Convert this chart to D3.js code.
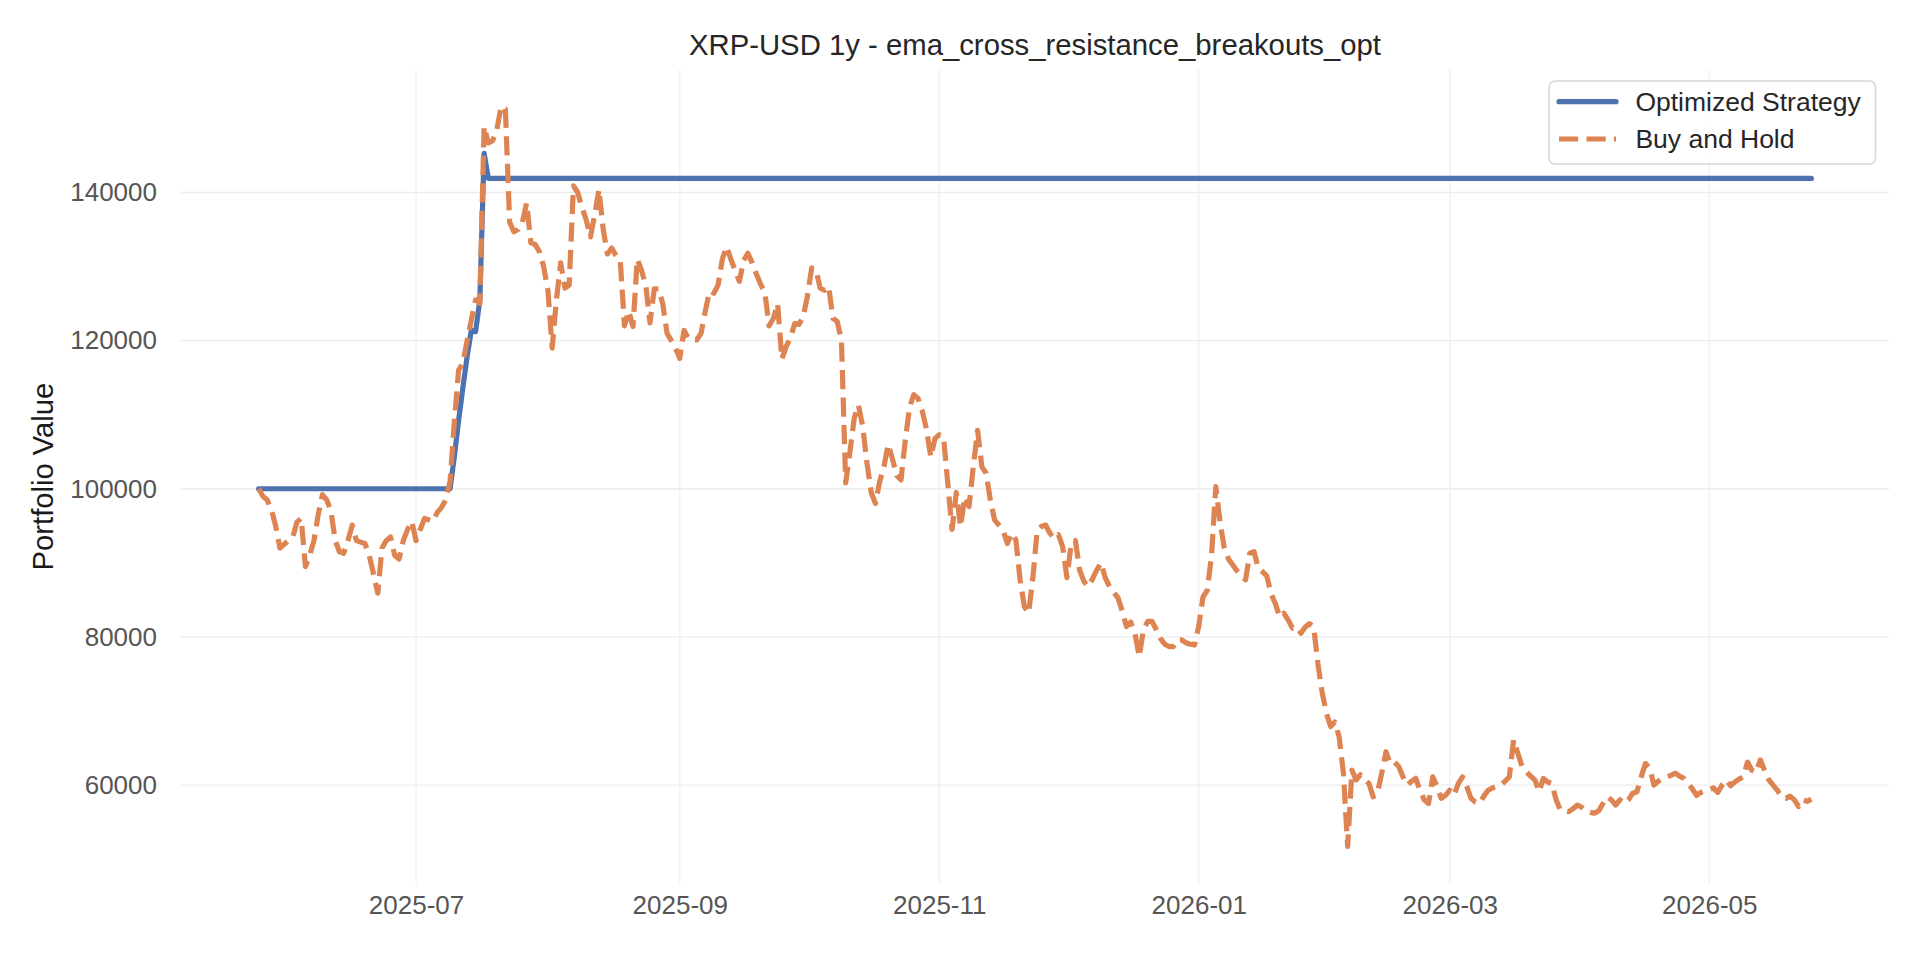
<!DOCTYPE html>
<html>
<head>
<meta charset="utf-8">
<script src="https://cdnjs.cloudflare.com/ajax/libs/d3/7.8.5/d3.min.js"></script>
<style>
  html, body { margin: 0; padding: 0; background: #ffffff; }
  svg { display: block; font-family: "Liberation Sans", Arial, sans-serif; }
</style>
</head>
<body>
<div id="chart"></div>
<script>
// chart text
const chartTitle = "XRP-USD 1y - ema_cross_resistance_breakouts_opt";
const yLabel = "Portfolio Value";
const seriesNames = ["Optimized Strategy", "Buy and Hold"];
const seriesColors = ["#4c72b0", "#dd8452"];

// first day of the daily series (2025-05-25), one value per day
const startDay = "2025-05-25";

// buy and hold, daily values
const buyHold = [
  100000, 99000, 98500, 97200, 95000, 92000, 92500, 93000, 93400, 95500,
  96000, 89500, 91000, 93000, 96500, 99200, 98500, 97000, 93000, 91500,
  91300, 93000, 95100, 93000, 92800, 92600, 91000, 88500, 85900, 92000,
  93000, 93500, 91000, 90500, 93000, 94500, 95600, 93000, 94500, 96000,
  95800, 95600, 96800, 97500, 98500, 101000, 109000, 116000, 117000, 120000,
  122800, 125500, 125000, 148900, 146700, 147000, 148500, 151600, 151300, 136000,
  134700, 135000, 136000, 138600, 133200, 133000, 132000, 130000, 126800, 119000,
  125500, 130500, 127100, 127500, 140900, 140000, 138000, 136300, 134000, 137000,
  140400, 135000, 131700, 132500, 131500, 130900, 122000, 124000, 121900, 131000,
  129500, 127500, 122400, 127000, 127000, 125000, 121000, 120000, 119000, 117600,
  121400, 120300, 120100, 120100, 121000, 124000, 126700, 126400, 127500, 131000,
  132700, 131000, 129500, 128000, 130800, 131800, 130500, 129000, 127600, 126500,
  122000, 123000, 125000, 117500, 119200, 120300, 122300, 122200, 123200, 126000,
  129800, 129600, 127100, 126800, 127300, 123000, 122600, 120100, 100800, 105000,
  109500, 111300, 108400, 103500, 99500, 98000, 101000, 103000, 106000, 104000,
  101800, 101200, 106500, 111000, 112700, 112200, 110500, 108000, 104300, 106800,
  107300, 107000, 100700, 94500, 99500, 94900, 98900, 97600, 103000, 107900,
  103000, 102100, 98500, 95800, 95100, 94400, 92600, 94000, 93100, 87700,
  84100, 83200, 88000, 94300, 94900, 95100, 94000, 93300, 93800, 92200,
  88000, 92500, 93000, 89000, 87500, 86800, 87800, 89000, 90000, 88000,
  86800, 86000, 85300, 83500, 81400, 82000, 80500, 77300, 81000, 82100,
  82100, 81000, 79800, 79000, 78700, 78700, 79600, 79600, 79200, 79000,
  78900, 81500, 85400, 86300, 91000, 100300, 95500, 92000, 90500, 89700,
  88900, 88200, 87700, 91300, 91500, 89300, 88800, 88200, 85800, 84500,
  82700, 83200, 82300, 81200, 81400, 80500, 81300, 81800, 81400, 76400,
  72500, 69700, 67900, 68500, 66500, 61600, 51700, 62000, 60700, 61400,
  60700, 60200, 58400, 58900, 61600, 64500, 62900, 63100, 62500, 61100,
  60000, 60500, 60900, 59300, 58000, 57500, 61100, 59800, 58200, 58600,
  59300, 58600, 60200, 61100, 59800, 58200, 57700, 57500, 58500, 59300,
  59600, 59800, 60000, 60500, 61100, 66100, 64300, 62500, 61800, 61200,
  60700, 59100, 60900, 60400, 60200, 58000, 56600, 56500, 56400, 56800,
  57300, 57000, 56500, 56300, 56200, 56500, 57500, 58400, 58000, 57300,
  58000, 57500, 58000, 58900, 59100, 61100, 62900, 62300, 60000, 60500,
  60900, 61100, 61300, 61600, 61200, 60900, 60200, 59500, 58600, 59000,
  59200, 59400, 59600, 59000, 60000, 60700, 59900, 60400, 60800, 61100,
  63100, 62000, 61700, 63400, 62000, 60700, 60000, 59300, 58400, 58200,
  58500, 58000, 57100, 58000, 57800, 58100
];

// optimized strategy: flat between these days, so only the turning days are kept
const strategyDays   = [0, 45, 46, 47, 48, 49, 50, 51, 52, 53, 54, 365];
const strategyValues = [100000, 100000, 104300, 109200, 113600, 117800, 121400, 121200, 125500, 145300, 141900, 141900];

const yTicks = [60000, 80000, 100000, 120000, 140000];
const xTickDates = ["2025-07-01", "2025-09-01", "2025-11-01", "2026-01-01", "2026-03-01", "2026-05-01"];

//size of svg and plot box
const w = 1920;
const h = 960;
const plot = { left: 181, right: 1889, top: 69.6, bottom: 883.5 };

const DAY = 86400000;
const parse = d3.utcParse("%Y-%m-%d");
const t0 = parse(startDay);
const dayDate = (i) => new Date(t0.getTime() + i * DAY);

const bhData = buyHold.map((v, i) => ({ date: dayDate(i), value: v }));
const stData = strategyDays.map((d, i) => ({ date: dayDate(d), value: strategyValues[i] }));

const svg = d3.select("#chart")
  .append("svg")
  .attr("width", w)
  .attr("height", h);

// matplotlib style 5% margins on both axes
const lastDate = dayDate(buyHold.length - 1);
const xPad = (lastDate - t0) * 0.05;
const x = d3.scaleUtc()
  .domain([new Date(t0.getTime() - xPad), new Date(lastDate.getTime() + xPad)])
  .range([plot.left, plot.right]);

const allVals = buyHold.concat(strategyValues);
const vMin = d3.min(allVals), vMax = d3.max(allVals);
const yPad = (vMax - vMin) * 0.05;
const y = d3.scaleLinear()
  .domain([vMin - yPad, vMax + yPad])
  .range([plot.bottom, plot.top]);

// grid
const grid = svg.append("g").attr("class", "grid");
grid.selectAll("line.h")
  .data(yTicks)
  .join("line")
  .attr("class", "h")
  .attr("x1", plot.left).attr("x2", plot.right)
  .attr("y1", d => y(d)).attr("y2", d => y(d))
  .attr("stroke", "#ececec")
  .attr("stroke-width", 1.3);

const xTicks = xTickDates.map(parse);
grid.selectAll("line.v")
  .data(xTicks)
  .join("line")
  .attr("class", "v")
  .attr("x1", d => x(d)).attr("x2", d => x(d))
  .attr("y1", plot.top).attr("y2", plot.bottom)
  .attr("stroke", "#f0f0f0")
  .attr("stroke-width", 1.3);

// axes (labels only, no spines)
const yAxis = d3.axisLeft(y).tickValues(yTicks).tickSize(0).tickPadding(24).tickFormat(d3.format("d"));
const yG = svg.append("g")
  .attr("transform", `translate(${plot.left},0)`)
  .call(yAxis);
yG.select(".domain").remove();
yG.selectAll("text")
  .attr("fill", "#555555")
  .style("font-size", "26px")
  .style("font-family", "'Liberation Sans', Arial, sans-serif");

const xAxis = d3.axisBottom(x).tickValues(xTicks).tickSize(0).tickPadding(12).tickFormat(d3.utcFormat("%Y-%m"));
const xG = svg.append("g")
  .attr("transform", `translate(0,${plot.bottom})`)
  .call(xAxis);
xG.select(".domain").remove();
xG.selectAll("text")
  .attr("fill", "#555555")
  .style("font-size", "26px")
  .style("font-family", "'Liberation Sans', Arial, sans-serif");

// lines
const line = d3.line().x(d => x(d.date)).y(d => y(d.value));

svg.append("path")
  .datum(stData)
  .attr("d", line)
  .attr("fill", "none")
  .attr("stroke", seriesColors[0])
  .attr("stroke-width", 5.2)
  .attr("stroke-linejoin", "round")
  .attr("stroke-linecap", "round");

svg.append("path")
  .datum(bhData)
  .attr("d", line)
  .attr("fill", "none")
  .attr("stroke", seriesColors[1])
  .attr("stroke-width", 5.2)
  .attr("stroke-linejoin", "round")
  .attr("stroke-linecap", "butt")
  .attr("stroke-dasharray", "19.2,8.3");

// title
svg.append("text")
  .attr("x", (plot.left + plot.right) / 2)
  .attr("y", 55)
  .attr("text-anchor", "middle")
  .attr("fill", "#262626")
  .style("font-size", "29.3px")
  .text(chartTitle);

// y label
svg.append("text")
  .attr("transform", `translate(43,${(plot.top + plot.bottom) / 2}) rotate(-90)`)
  .attr("text-anchor", "middle")
  .attr("dominant-baseline", "central")
  .attr("fill", "#1a1a1a")
  .style("font-size", "29.2px")
  .text(yLabel);

// legend
const legend = svg.append("g").attr("transform", "translate(1549,81)");
legend.append("rect")
  .attr("width", 326.5)
  .attr("height", 83)
  .attr("rx", 6)
  .attr("fill", "#ffffff")
  .attr("fill-opacity", 0.8)
  .attr("stroke", "#d6d6d6")
  .attr("stroke-width", 1.5);

const items = legend.selectAll("g.item")
  .data(seriesNames)
  .join("g")
  .attr("class", "item")
  .attr("transform", (d, i) => `translate(0,${i === 0 ? 20.7 : 58})`);

items.append("line")
  .attr("x1", 10).attr("x2", 67)
  .attr("stroke", (d, i) => seriesColors[i])
  .attr("stroke-width", 5.2)
  .attr("stroke-linecap", (d, i) => i === 0 ? "round" : "butt")
  .attr("stroke-dasharray", (d, i) => i === 0 ? null : "19.2,8.3");

items.append("text")
  .attr("x", 86.4)
  .attr("dominant-baseline", "central")
  .attr("fill", "#262626")
  .style("font-size", "26.5px")
  .text(d => d);
</script>
</body>
</html>
